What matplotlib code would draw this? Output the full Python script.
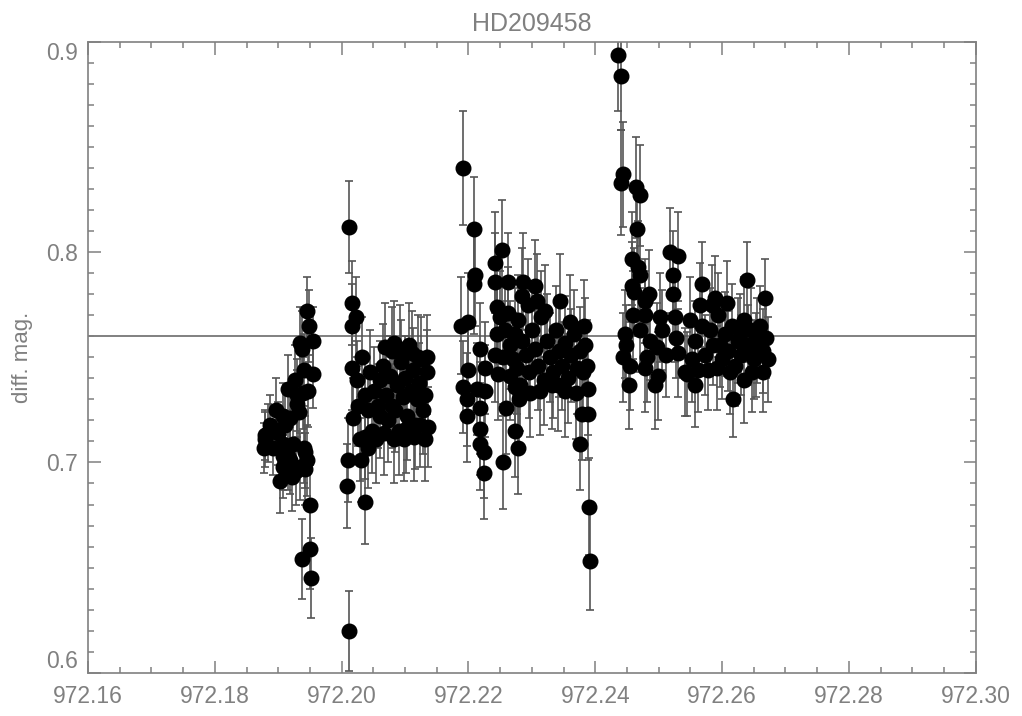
import matplotlib
matplotlib.use("Agg")
import matplotlib.pyplot as plt
from matplotlib.ticker import FixedLocator, MultipleLocator

title = "HD209458"
ylabel = "diff. mag."
ref_level = 0.76
xticks = [972.16, 972.18, 972.20, 972.22, 972.24, 972.26, 972.28, 972.30]
xtick_labels = ["972.16", "972.18", "972.20", "972.22", "972.24", "972.26", "972.28", "972.30"]
yticks = [0.6, 0.7, 0.8, 0.9]
ytick_labels = ["0.6", "0.7", "0.8", "0.9"]

# segment 1
x1 = [972.1946, 972.1948, 972.1934, 972.1955, 972.1937, 972.1941, 972.1955, 972.1926, 972.1916, 972.1947,
      972.1929, 972.1932, 972.1897, 972.1908, 972.1919, 972.1887, 972.1879, 972.1900, 972.1877, 972.1892,
      972.1908, 972.1924, 972.1940, 972.1942, 972.1908, 972.1919, 972.1945, 972.1908, 972.1934, 972.1942,
      972.1903, 972.1921, 972.1950, 972.1950, 972.1937, 972.1951, 972.1879, 972.1884, 972.1911, 972.1930,
      972.1939, 972.1915, 972.1928]
y1 = [0.772, 0.765, 0.757, 0.758, 0.754, 0.744, 0.742, 0.739, 0.735, 0.734,
      0.728, 0.724, 0.725, 0.722, 0.721, 0.718, 0.713, 0.714, 0.707, 0.707,
      0.709, 0.709, 0.707, 0.705, 0.703, 0.701, 0.701, 0.698, 0.698, 0.697,
      0.691, 0.693, 0.680, 0.659, 0.654, 0.645, 0.711, 0.714, 0.718, 0.732,
      0.733, 0.703, 0.696]
e1 = [0.016, 0.017, 0.017, 0.016, 0.018, 0.017, 0.016, 0.017, 0.016, 0.017,
      0.016, 0.017, 0.015, 0.016, 0.016, 0.014, 0.012, 0.015, 0.012, 0.013,
      0.016, 0.016, 0.017, 0.017, 0.016, 0.016, 0.017, 0.015, 0.016, 0.017,
      0.015, 0.016, 0.019, 0.019, 0.019, 0.019, 0.013, 0.014, 0.016, 0.017,
      0.017, 0.016, 0.016]

# segment 2
x2 = [972.2011, 972.2016, 972.2022, 972.2016, 972.2032, 972.2017, 972.2024, 972.2069, 972.2082, 972.2026,
      972.2018, 972.2037, 972.2042, 972.2010, 972.2030, 972.2008, 972.2037, 972.2012, 972.2134, 972.2134,
      972.2132, 972.2136, 972.2121,
      972.2045, 972.2051, 972.2057, 972.2061, 972.2065, 972.2070, 972.2073, 972.2076, 972.2080, 972.2084,
      972.2087, 972.2091, 972.2094, 972.2097, 972.2100, 972.2103, 972.2106, 972.2110, 972.2113, 972.2116,
      972.2119, 972.2122, 972.2125, 972.2128, 972.2132, 972.2048, 972.2054, 972.2067, 972.2083, 972.2098,
      972.2114, 972.2124, 972.2061, 972.2037, 972.2042, 972.2029, 972.2092, 972.2111, 972.2080, 972.2102]
y2 = [0.812, 0.776, 0.769, 0.765, 0.750, 0.745, 0.739, 0.755, 0.757, 0.727,
      0.721, 0.712, 0.707, 0.701, 0.701, 0.689, 0.681, 0.620, 0.750, 0.743,
      0.732, 0.717, 0.750,
      0.743, 0.734, 0.727, 0.739, 0.746, 0.732, 0.720, 0.741, 0.753, 0.725,
      0.737, 0.715, 0.748, 0.731, 0.740, 0.722, 0.756, 0.734, 0.744, 0.718,
      0.730, 0.738, 0.749, 0.725, 0.711, 0.715, 0.711, 0.714, 0.711, 0.711,
      0.712, 0.718, 0.722, 0.732, 0.725, 0.711, 0.754, 0.752, 0.727, 0.716]
e2 = [0.022, 0.020, 0.019, 0.020, 0.019, 0.020, 0.019, 0.021, 0.020, 0.019,
      0.019, 0.020, 0.019, 0.020, 0.020, 0.020, 0.020, 0.019, 0.020, 0.020,
      0.020, 0.019, 0.020,
      0.020, 0.021, 0.020, 0.019, 0.020, 0.021, 0.020, 0.019, 0.021, 0.020,
      0.020, 0.021, 0.020, 0.019, 0.020, 0.021, 0.020, 0.021, 0.020, 0.021,
      0.020, 0.019, 0.020, 0.021, 0.020, 0.020, 0.021, 0.020, 0.021, 0.020,
      0.021, 0.020, 0.020, 0.019, 0.020, 0.020, 0.021, 0.020, 0.020, 0.021]

# segment 3
x3 = [972.2192, 972.2208, 972.2210, 972.2209, 972.2189, 972.2200, 972.2218, 972.2226, 972.2200, 972.2192,
      972.2213, 972.2226, 972.2197, 972.2218, 972.2197, 972.2218, 972.2218, 972.2224, 972.2224, 972.2253,
      972.2242, 972.2242, 972.2262, 972.2286, 972.2284, 972.2245, 972.2263, 972.2245, 972.2274, 972.2242,
      972.2255, 972.2276, 972.2247, 972.2274, 972.2260, 972.2279, 972.2274, 972.2278, 972.2255,
      972.2305, 972.2345, 972.2383, 972.2384, 972.2387, 972.2388, 972.2379, 972.2389, 972.2369, 972.2341,
      972.2376, 972.2390, 972.2391,
      972.2258, 972.2266, 972.2270, 972.2278, 972.2285, 972.2291, 972.2296, 972.2300, 972.2305, 972.2310,
      972.2315, 972.2319, 972.2324, 972.2329, 972.2333, 972.2338, 972.2343, 972.2348, 972.2352, 972.2357,
      972.2362, 972.2367, 972.2371, 972.2376, 972.2381, 972.2294, 972.2308, 972.2321, 972.2332, 972.2352,
      972.2266, 972.2281, 972.2313, 972.2360, 972.2250, 972.2297]
y3 = [0.840, 0.811, 0.789, 0.785, 0.765, 0.767, 0.754, 0.745, 0.744, 0.736,
      0.735, 0.734, 0.730, 0.726, 0.722, 0.716, 0.709, 0.705, 0.695, 0.801,
      0.795, 0.786, 0.786, 0.786, 0.779, 0.774, 0.771, 0.761, 0.761, 0.751,
      0.750, 0.745, 0.742, 0.736, 0.726, 0.730, 0.715, 0.707, 0.700,
      0.784, 0.777, 0.765, 0.756, 0.746, 0.735, 0.723, 0.723, 0.733, 0.737,
      0.709, 0.679, 0.653,
      0.763, 0.756, 0.749, 0.768, 0.758, 0.751, 0.743, 0.763, 0.754, 0.746,
      0.769, 0.739, 0.758, 0.750, 0.743, 0.763, 0.753, 0.746, 0.757, 0.740,
      0.751, 0.761, 0.745, 0.753, 0.743, 0.775, 0.777, 0.772, 0.737, 0.734,
      0.741, 0.737, 0.734, 0.767, 0.769, 0.733]
e3 = [0.027, 0.025, 0.024, 0.024, 0.023, 0.023, 0.022, 0.022, 0.023, 0.022,
      0.022, 0.022, 0.022, 0.022, 0.022, 0.022, 0.022, 0.022, 0.022, 0.024,
      0.024, 0.023, 0.023, 0.023, 0.023, 0.022, 0.022, 0.022, 0.022, 0.022,
      0.022, 0.022, 0.022, 0.022, 0.022, 0.022, 0.022, 0.022, 0.022,
      0.022, 0.022, 0.022, 0.022, 0.022, 0.022, 0.022, 0.022, 0.022, 0.022,
      0.022, 0.023, 0.023,
      0.022, 0.021, 0.022, 0.021, 0.022, 0.021, 0.022, 0.021, 0.022, 0.021,
      0.022, 0.021, 0.022, 0.021, 0.022, 0.021, 0.022, 0.021, 0.022, 0.021,
      0.022, 0.021, 0.022, 0.021, 0.022, 0.022, 0.022, 0.022, 0.021, 0.022,
      0.021, 0.022, 0.021, 0.022, 0.022, 0.021]

# segment 4
x4 = [972.2436, 972.2441, 972.2443, 972.2440, 972.2465, 972.2470, 972.2466, 972.2458, 972.2468, 972.2470,
      972.2458, 972.2461, 972.2484, 972.2460, 972.2479, 972.2502, 972.2447, 972.2444, 972.2455, 972.2481,
      972.2497, 972.2479, 972.2499, 972.2454, 972.2494, 972.2518, 972.2531, 972.2523, 972.2523, 972.2526,
      972.2531, 972.2542, 972.2568, 972.2639, 972.2668, 972.2589, 972.2607, 972.2618, 972.2557, 972.2665,
      972.2634, 972.2592, 972.2544,
      972.2550, 972.2557, 972.2565, 972.2573, 972.2581, 972.2586, 972.2594, 972.2600, 972.2605, 972.2610,
      972.2616, 972.2621, 972.2625, 972.2630, 972.2635, 972.2641, 972.2646, 972.2651, 972.2655, 972.2660,
      972.2665, 972.2669, 972.2673, 972.2578, 972.2613, 972.2647, 972.2553, 972.2568, 972.2597, 972.2628,
      972.2654, 972.2505, 972.2512, 972.2486, 972.2471, 972.2449, 972.2479, 972.2528, 972.2562, 972.2584]
y4 = [0.894, 0.884, 0.837, 0.833, 0.831, 0.827, 0.811, 0.797, 0.793, 0.789,
      0.784, 0.781, 0.780, 0.770, 0.770, 0.769, 0.761, 0.750, 0.746, 0.750,
      0.755, 0.745, 0.741, 0.737, 0.737, 0.800, 0.798, 0.789, 0.780, 0.769,
      0.752, 0.743, 0.785, 0.787, 0.778, 0.778, 0.776, 0.730, 0.737, 0.743,
      0.739, 0.745, 0.742,
      0.768, 0.758, 0.775, 0.751, 0.763, 0.756, 0.770, 0.749, 0.761, 0.753,
      0.765, 0.746, 0.758, 0.751, 0.768, 0.756, 0.763, 0.749, 0.758, 0.765,
      0.753, 0.759, 0.749, 0.744, 0.743, 0.743, 0.749, 0.765, 0.756, 0.761,
      0.751, 0.763, 0.751, 0.758, 0.763, 0.756, 0.777, 0.759, 0.744, 0.775]
e4 = [0.027, 0.026, 0.025, 0.025, 0.024, 0.024, 0.023, 0.022, 0.022, 0.022,
      0.021, 0.021, 0.021, 0.021, 0.021, 0.021, 0.021, 0.021, 0.021, 0.021,
      0.021, 0.021, 0.021, 0.021, 0.021, 0.021, 0.021, 0.021, 0.021, 0.021,
      0.021, 0.021, 0.020, 0.018, 0.019, 0.020, 0.020, 0.018, 0.020, 0.019,
      0.020, 0.020, 0.020,
      0.020, 0.019, 0.020, 0.019, 0.020, 0.019, 0.020, 0.019, 0.020, 0.019,
      0.020, 0.019, 0.020, 0.019, 0.020, 0.019, 0.020, 0.019, 0.020, 0.019,
      0.020, 0.019, 0.020, 0.019, 0.020, 0.019, 0.020, 0.019, 0.020, 0.019,
      0.020, 0.019, 0.020, 0.019, 0.020, 0.019, 0.020, 0.019, 0.020, 0.019]

segments = [(x1, y1, e1), (x2, y2, e2), (x3, y3, e3), (x4, y4, e4)]

gray = "#808080"
plt.rcParams["font.family"] = ["Liberation Sans", "DejaVu Sans"]

fig = plt.figure(figsize=(10.22, 7.16), dpi=100)
ax = fig.add_axes([0.0861, 0.0605, 0.8686, 0.8808])

ax.axhline(ref_level, color=gray, lw=1.4, zorder=1)
for xs, ys, es in segments:
    ax.errorbar(xs, ys, yerr=es, fmt="o", ms=10.5, mfc="black", mec="black",
                ecolor="#555555", elinewidth=1.2, capsize=3.2, capthick=1.2, zorder=2)

ax.set_xlim(xticks[0], xticks[-1])
ax.set_ylim(yticks[0], yticks[-1])
ax.xaxis.set_major_locator(FixedLocator(xticks))
ax.yaxis.set_major_locator(FixedLocator(yticks))
ax.set_xticklabels(xtick_labels)
ax.set_yticklabels(ytick_labels)
ax.xaxis.set_minor_locator(MultipleLocator(0.005))
ax.yaxis.set_minor_locator(MultipleLocator(0.01))
ax.tick_params(which="both", direction="in", top=True, right=True, color=gray,
               labelcolor=gray, labelsize=16.5, width=1.1)
ax.tick_params(which="major", length=9)
ax.tick_params(which="minor", length=4.5)
ax.tick_params(axis="x", pad=9)
ax.tick_params(axis="y", pad=7)
for s in ax.spines.values():
    s.set_color(gray)
    s.set_linewidth(1.2)

ylabs = ax.get_yticklabels()
ylabs[0].set_va("bottom")
ylabs[-1].set_va("top")

ax.set_title(title, color=gray, fontsize=18, pad=8)
ax.set_ylabel(ylabel, color=gray, fontsize=16, labelpad=10)

fig.savefig("out.png", dpi=100)
